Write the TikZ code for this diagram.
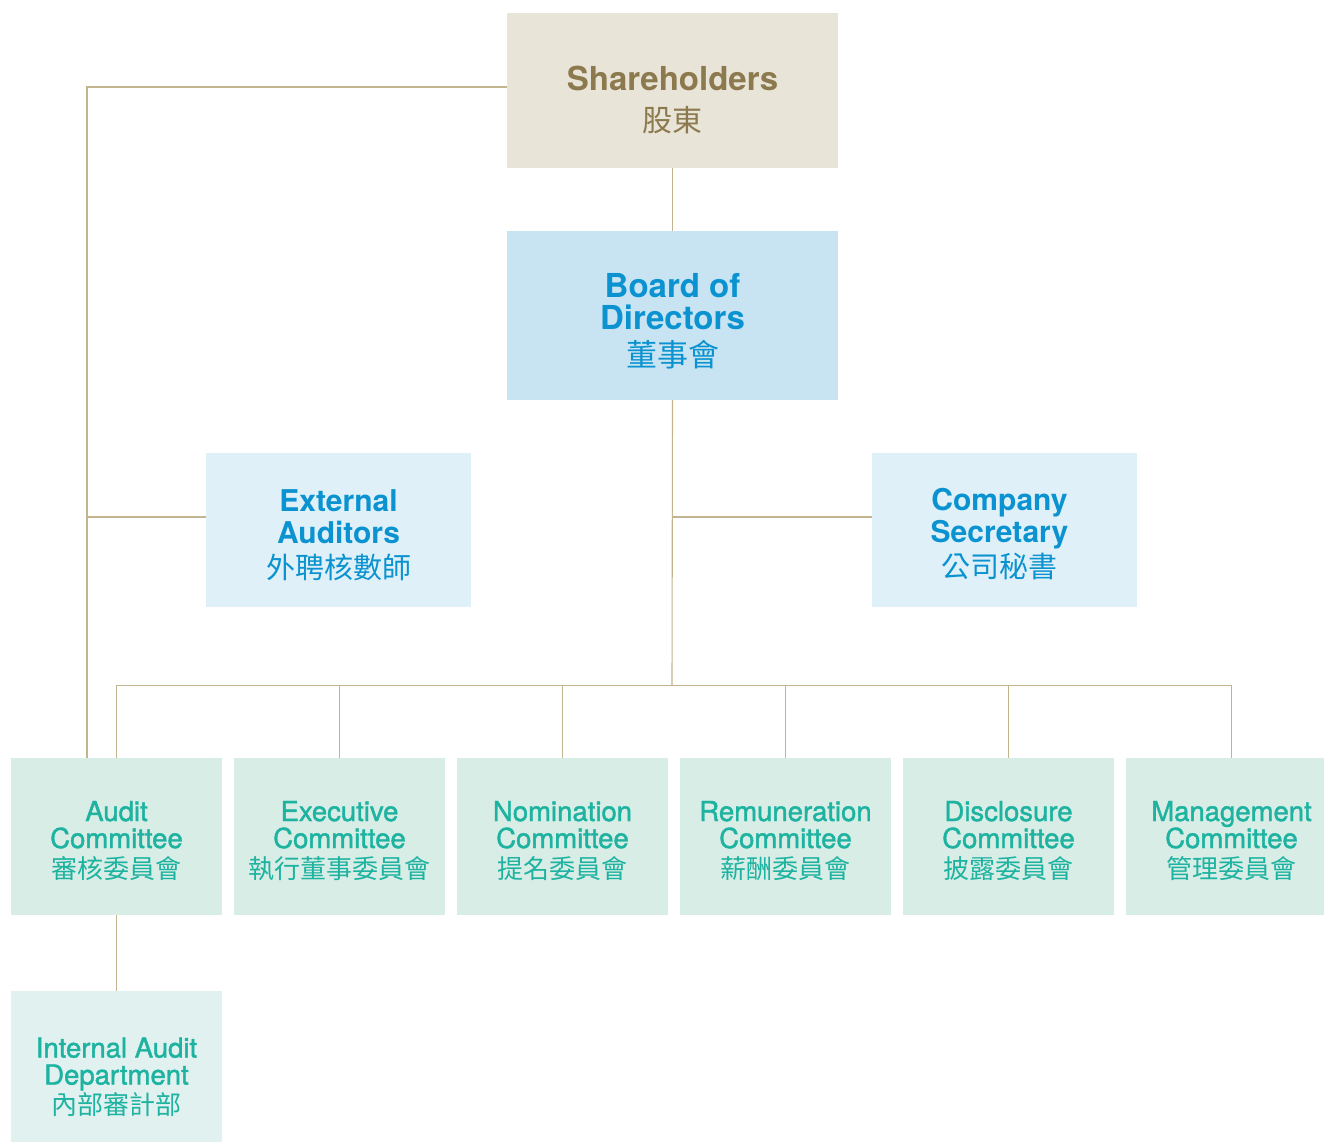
\documentclass[tikz,border=0pt]{standalone}
\usepackage{fontspec}
\setmainfont{TeX Gyre Heros}
\newfontfamily\cjk{Noto Sans CJK TC}
\newfontfamily\medfont[FakeBold=1.5]{TeX Gyre Heros}
\usetikzlibrary{calc}
\definecolor{lineC}{HTML}{C2B48E}
\definecolor{shFill}{HTML}{E8E4D8}
\definecolor{shText}{HTML}{8C7A4E}
\definecolor{bdFill}{HTML}{C8E4F2}
\definecolor{blueText}{HTML}{0A93D0}
\definecolor{lbFill}{HTML}{DFF0F8}
\definecolor{cmFill}{HTML}{D8EDE6}
\definecolor{tealText}{HTML}{1DB3A0}
\definecolor{iaFill}{HTML}{E0F1EF}
\tikzset{
  box/.style={inner sep=0pt, draw=none},
  conn/.style={draw=lineC, line width=1.1pt},
  tl/.style={anchor=base, inner sep=0pt},
  shE/.style={tl, text=shText, font=\fontsize{33}{33}\selectfont\bfseries},
  shC/.style={tl, text=shText, font=\cjk\fontsize{30}{30}\selectfont},
  bdE/.style={tl, text=blueText, font=\fontsize{33}{33}\selectfont\bfseries},
  bdC/.style={tl, text=blueText, font=\cjk\fontsize{31}{31}\selectfont},
  lbE/.style={tl, text=blueText, font=\fontsize{30}{30}\selectfont\bfseries},
  lbC/.style={tl, text=blueText, font=\cjk\fontsize{29}{29}\selectfont},
  cmE/.style={tl, text=tealText, font=\medfont\fontsize{27.5}{27.5}\selectfont},
  cmC/.style={tl, text=tealText, font=\cjk\fontsize{26}{26}\selectfont},
  cmbox/.style={box, fill=cmFill, minimum width=211pt, minimum height=157pt},
}
\begin{document}
\begin{tikzpicture}[x=1pt,y=-1pt]
\useasboundingbox (0,0) rectangle (1324,1142);
\fill[white] (0,0) rectangle (1324,1142);

% boxes
\node[box, fill=shFill, minimum width=331pt, minimum height=155pt] (sh) at (672.5,90.5) {};
\node[box, fill=bdFill, minimum width=331pt, minimum height=169pt] (bd) at (672.5,315.5) {};
\node[box, fill=lbFill, minimum width=265pt, minimum height=154pt] (ext) at (338.5,530) {};
\node[box, fill=lbFill, minimum width=265pt, minimum height=154pt] (sec) at (1004.5,530) {};
\node[cmbox] (aud) at (116.5,836.5) {};
\node[cmbox] (exe) at (339.5,836.5) {};
\node[cmbox] (nom) at (562.5,836.5) {};
\node[cmbox] (rem) at (785.5,836.5) {};
\node[cmbox] (dis) at (1008.5,836.5) {};
\node[cmbox] (mgt) at (1231.5,836.5) {};
\node[box, fill=iaFill, minimum width=211pt, minimum height=151pt] (ia) at (116.5,1066.5) {};

% texts
\node[shE] (sh1) at ($(sh)+(0,0.5)$) {Shareholders};
\node[shC] (sh2) at ($(sh)+(0,41.5)$) {股東};
\node[bdE] (bd1) at ($(bd)+(0,-18.5)$) {Board of};
\node[bdE] (bd2) at ($(bd)+(0,13.5)$) {Directors};
\node[bdC] (bd3) at ($(bd)+(0,50.5)$) {董事會};
\node[lbE] (ext1) at ($(ext)+(0,-19)$) {External};
\node[lbE] (ext2) at ($(ext)+(0,13)$) {Auditors};
\node[lbC] (ext3) at ($(ext)+(0,48.5)$) {外聘核數師};
\node[lbE] (sec1) at ($(sec)+(-5,-20)$) {Company};
\node[lbE] (sec2) at ($(sec)+(-5,12)$) {Secretary};
\node[lbC] (sec3) at ($(sec)+(-5,47.5)$) {公司秘書};

\node[cmE] (aud1) at ($(aud)+(0,-15.5)$) {Audit};
\node[cmE] (aud2) at ($(aud)+(0,11.5)$) {Committee};
\node[cmC] (aud3) at ($(aud)+(0,41.5)$) {審核委員會};
\node[cmE] (exe1) at ($(exe)+(0,-15.5)$) {Executive};
\node[cmE] (exe2) at ($(exe)+(0,11.5)$) {Committee};
\node[cmC] (exe3) at ($(exe)+(0,41.5)$) {執行董事委員會};
\node[cmE] (nom1) at ($(nom)+(0,-15.5)$) {Nomination};
\node[cmE] (nom2) at ($(nom)+(0,11.5)$) {Committee};
\node[cmC] (nom3) at ($(nom)+(0,41.5)$) {提名委員會};
\node[cmE] (rem1) at ($(rem)+(0,-15.5)$) {Remuneration};
\node[cmE] (rem2) at ($(rem)+(0,11.5)$) {Committee};
\node[cmC] (rem3) at ($(rem)+(0,41.5)$) {薪酬委員會};
\node[cmE] (dis1) at ($(dis)+(0,-15.5)$) {Disclosure};
\node[cmE] (dis2) at ($(dis)+(0,11.5)$) {Committee};
\node[cmC] (dis3) at ($(dis)+(0,41.5)$) {披露委員會};
\node[cmE] (mgt1) at ($(mgt)+(0,-15.5)$) {Management};
\node[cmE] (mgt2) at ($(mgt)+(0,11.5)$) {Committee};
\node[cmC] (mgt3) at ($(mgt)+(0,41.5)$) {管理委員會};
\node[cmE] (ia1) at ($(ia)+(0,-9)$) {Internal Audit};
\node[cmE] (ia2) at ($(ia)+(0,18)$) {Department};
\node[cmC] (ia3) at ($(ia)+(0,48)$) {內部審計部};

% connectors
\coordinate (lc) at (87,87);
\coordinate (ly) at (0,517);
\coordinate (bus) at (672,685.5);
\draw[conn] (sh.west |- lc) -- (lc) -- (lc |- aud.north);
\draw[conn] (ext.west |- ly) -- (lc |- ly);
\draw[conn] (sh.south) -- (bd.north);
\draw[conn] (bd.south) -- (bus);
\draw[conn] (sec.west |- ly) -- (bus |- ly);
\draw[conn] (aud.north) |- (bus) -| (mgt.north);
\draw[conn] (exe.north) -- (exe.north |- bus);
\draw[conn] (nom.north) -- (nom.north |- bus);
\draw[conn] (rem.north) -- (rem.north |- bus);
\draw[conn] (dis.north) -- (dis.north |- bus);
\draw[conn] (aud.south) -- (ia.north);
\end{tikzpicture}
\end{document}
